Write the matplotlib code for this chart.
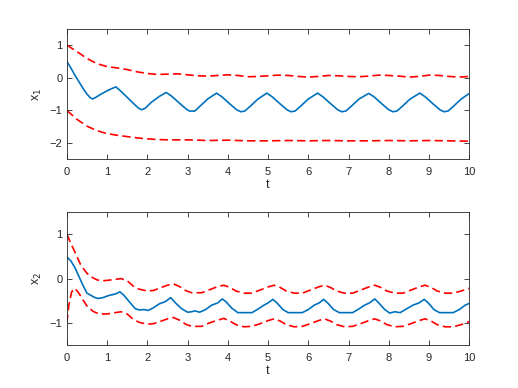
import matplotlib
matplotlib.use("Agg")
import matplotlib.pyplot as plt

# ---- data: top panel (x1) ----
t1_mid = [0, 0.1, 0.2, 0.3, 0.4, 0.5, 0.58, 0.64, 0.72, 0.85, 1.0, 1.12, 1.22, 1.35, 1.5, 1.65,
          1.78, 1.86, 1.95, 2.1, 2.3, 2.47, 2.6, 2.8, 2.97, 3.05, 3.18, 3.3, 3.5, 3.72, 3.85,
          4.05, 4.22, 4.32, 4.42, 4.55, 4.75, 4.97, 5.1, 5.3, 5.47, 5.57, 5.67, 5.8, 6.0, 6.23,
          6.36, 6.56, 6.73, 6.83, 6.93, 7.06, 7.26, 7.5, 7.63, 7.83, 8.0, 8.1, 8.2, 8.33, 8.53,
          8.77, 8.9, 9.1, 9.27, 9.37, 9.47, 9.6, 9.8, 10.0]
x1_mid = [0.5, 0.3, 0.08, -0.12, -0.32, -0.5, -0.61, -0.65, -0.6, -0.5, -0.4, -0.33, -0.28, -0.42,
          -0.6, -0.78, -0.93, -0.98, -0.93, -0.75, -0.57, -0.45, -0.56, -0.78, -0.96, -1.02, -1.02,
          -0.88, -0.65, -0.47, -0.58, -0.8, -0.98, -1.04, -1.02, -0.88, -0.65, -0.47, -0.58, -0.8,
          -0.98, -1.04, -1.02, -0.88, -0.65, -0.47, -0.58, -0.8, -0.98, -1.04, -1.02, -0.88, -0.65,
          -0.48, -0.58, -0.8, -0.98, -1.04, -1.02, -0.88, -0.65, -0.47, -0.58, -0.8, -0.98, -1.04,
          -1.02, -0.88, -0.65, -0.48]

t1_up = [0, 0.25, 0.5, 0.75, 1.0, 1.25, 1.5, 1.75, 2.0, 2.25, 2.5, 2.75, 3.0, 3.25, 3.5, 3.75, 4.0,
         4.25, 4.5, 4.75, 5.0, 5.25, 5.5, 5.75, 6.0, 6.25, 6.5, 6.75, 7.0, 7.25, 7.5, 7.75, 8.0,
         8.25, 8.5, 8.75, 9.0, 9.25, 9.5, 9.75, 10.0]
x1_up = [1.0, 0.8, 0.59, 0.43, 0.34, 0.30, 0.25, 0.18, 0.13, 0.10, 0.11, 0.12, 0.09, 0.06, 0.05,
         0.07, 0.09, 0.07, 0.03, 0.04, 0.06, 0.08, 0.07, 0.04, 0.02, 0.04, 0.07, 0.06, 0.04, 0.03,
         0.05, 0.08, 0.07, 0.05, 0.02, 0.04, 0.08, 0.07, 0.04, 0.02, 0.04]

t1_lo = [0, 0.25, 0.5, 0.75, 1.0, 1.25, 1.5, 1.75, 2.0, 2.25, 2.5, 3.0, 3.5, 4.0, 4.5, 5.0, 5.5,
         6.0, 6.5, 7.0, 7.5, 8.0, 8.5, 9.0, 9.5, 10.0]
x1_lo = [-1.0, -1.27, -1.48, -1.62, -1.71, -1.76, -1.8, -1.84, -1.87, -1.89, -1.9, -1.9, -1.92,
         -1.91, -1.93, -1.93, -1.92, -1.93, -1.92, -1.93, -1.93, -1.92, -1.93, -1.92, -1.93, -1.94]

# ---- data: bottom panel (x2) ----
t2_mid = [0, 0.1, 0.2, 0.3, 0.4, 0.5, 0.6, 0.7, 0.78, 0.9, 1.05, 1.2, 1.32, 1.42, 1.55, 1.7, 1.8,
          1.92, 2.02, 2.15, 2.3, 2.45, 2.58, 2.7, 2.85, 3.0, 3.1, 3.18, 3.3, 3.45, 3.6, 3.75, 3.86,
          3.95, 4.1, 4.25, 4.6, 4.75, 4.9, 5.0, 5.12, 5.22, 5.37, 5.5, 5.85, 6.0, 6.15, 6.27, 6.38,
          6.48, 6.63, 6.77, 7.1, 7.25, 7.4, 7.52, 7.65, 7.75, 7.9, 8.02, 8.15, 8.28, 8.45, 8.6,
          8.75, 8.88, 8.98, 9.12, 9.26, 9.6, 9.75, 9.9, 10.0]
x2_mid = [0.49, 0.4, 0.25, 0.05, -0.15, -0.33, -0.38, -0.43, -0.45, -0.43, -0.38, -0.35, -0.30,
          -0.38, -0.52, -0.68, -0.71, -0.70, -0.72, -0.66, -0.57, -0.52, -0.43, -0.55, -0.68,
          -0.76, -0.75, -0.73, -0.76, -0.7, -0.6, -0.55, -0.46, -0.52, -0.67, -0.77, -0.77, -0.69,
          -0.6, -0.55, -0.47, -0.55, -0.7, -0.77, -0.77, -0.7, -0.6, -0.55, -0.47, -0.55, -0.7,
          -0.77, -0.77, -0.69, -0.6, -0.55, -0.46, -0.55, -0.7, -0.78, -0.75, -0.77, -0.68, -0.6,
          -0.55, -0.47, -0.55, -0.7, -0.77, -0.77, -0.7, -0.6, -0.56]

t2_up = [0, 0.1, 0.2, 0.35, 0.5, 0.6, 0.75, 0.9, 1.1, 1.35, 1.5, 1.65, 1.8, 2.0, 2.15, 2.35, 2.5,
         2.65, 2.8, 2.95, 3.1, 3.35, 3.55, 3.75, 3.9, 4.05, 4.2, 4.4, 4.6, 4.8, 5.0, 5.15, 5.3,
         5.45, 5.65, 5.85, 6.05, 6.25, 6.4, 6.55, 6.7, 6.9, 7.1, 7.3, 7.5, 7.65, 7.8, 7.95, 8.15,
         8.35, 8.55, 8.75, 8.9, 9.05, 9.2, 9.4, 9.6, 9.8, 10.0]
x2_up = [1.0, 0.8, 0.6, 0.3, 0.12, 0.04, -0.03, -0.05, -0.03, 0.0, -0.05, -0.17, -0.24, -0.28,
         -0.27, -0.2, -0.15, -0.12, -0.18, -0.27, -0.32, -0.32, -0.25, -0.18, -0.15, -0.2, -0.28,
         -0.33, -0.33, -0.26, -0.19, -0.15, -0.2, -0.28, -0.33, -0.33, -0.26, -0.19, -0.15, -0.2,
         -0.28, -0.33, -0.33, -0.26, -0.19, -0.15, -0.2, -0.28, -0.33, -0.33, -0.26, -0.19, -0.15,
         -0.2, -0.28, -0.33, -0.33, -0.28, -0.22]

t2_lo = [0, 0.05, 0.12, 0.2, 0.3, 0.4, 0.5, 0.65, 0.8, 1.0, 1.2, 1.35, 1.5, 1.65, 1.8, 2.0, 2.15,
         2.35, 2.5, 2.65, 2.8, 2.95, 3.1, 3.35, 3.55, 3.75, 3.9, 4.05, 4.2, 4.4, 4.6, 4.8, 5.0,
         5.15, 5.3, 5.45, 5.65, 5.85, 6.05, 6.25, 6.4, 6.55, 6.7, 6.9, 7.1, 7.3, 7.5, 7.65, 7.8,
         7.95, 8.15, 8.35, 8.55, 8.75, 8.9, 9.05, 9.2, 9.4, 9.6, 9.8, 10.0]
x2_lo = [-1.0, -0.6, -0.3, -0.22, -0.33, -0.48, -0.62, -0.74, -0.8, -0.8, -0.77, -0.75, -0.8,
         -0.92, -0.99, -1.03, -1.02, -0.96, -0.91, -0.88, -0.94, -1.03, -1.08, -1.08, -1.0, -0.94,
         -0.9, -0.96, -1.04, -1.09, -1.08, -1.02, -0.95, -0.91, -0.96, -1.04, -1.09, -1.08, -1.02,
         -0.95, -0.91, -0.96, -1.04, -1.09, -1.08, -1.02, -0.95, -0.91, -0.96, -1.04, -1.09, -1.08,
         -1.02, -0.95, -0.91, -0.96, -1.04, -1.09, -1.09, -1.04, -0.97]

xticks = list(range(0, 11))
yticks1 = [-2, -1, 0, 1]
yticks2 = [-1, 0, 1]

plt.rcParams['font.family'] = ['Liberation Sans', 'DejaVu Sans']
axc = (0.15, 0.15, 0.15)
blue = (0.0, 0.447, 0.741)
red = (1.0, 0.0, 0.0)

fig = plt.figure(figsize=(5.18, 3.88), dpi=100)
ax1 = fig.add_axes([0.129, 0.589, 0.777, 0.337])
ax2 = fig.add_axes([0.129, 0.111, 0.777, 0.342])

def style(ax, yt, ylim, ylab):
    ax.set_xlim(0, 10)
    ax.set_ylim(*ylim)
    ax.set_xticks(xticks)
    ax.set_yticks(yt)
    ax.tick_params(direction='in', length=3.5, width=0.6, colors=axc, labelsize=8,
                   top=True, right=True)
    ax.tick_params(axis='x', pad=5.5)
    ax.tick_params(axis='y', pad=3)
    for s in ax.spines.values():
        s.set_color(axc)
        s.set_linewidth(0.6)
    ax.set_xlabel('t', fontsize=9, color=axc, labelpad=1.5)
    ax.set_ylabel(ylab, fontsize=9, color=axc, labelpad=4)

lw = 1.2
for ax, tm, xm, tu, xu, tl, xl in [(ax1, t1_mid, x1_mid, t1_up, x1_up, t1_lo, x1_lo),
                                   (ax2, t2_mid, x2_mid, t2_up, x2_up, t2_lo, x2_lo)]:
    ax.plot(tu, xu, color=red, lw=lw, dashes=(5, 2.5))
    ax.plot(tl, xl, color=red, lw=lw, dashes=(5, 2.5))
    ax.plot(tm, xm, color=blue, lw=lw)

style(ax1, yticks1, (-2.5, 1.5), r'x$_1$')
style(ax2, yticks2, (-1.5, 1.5), r'x$_2$')

fig.savefig('out.png', dpi=100, facecolor='white')
